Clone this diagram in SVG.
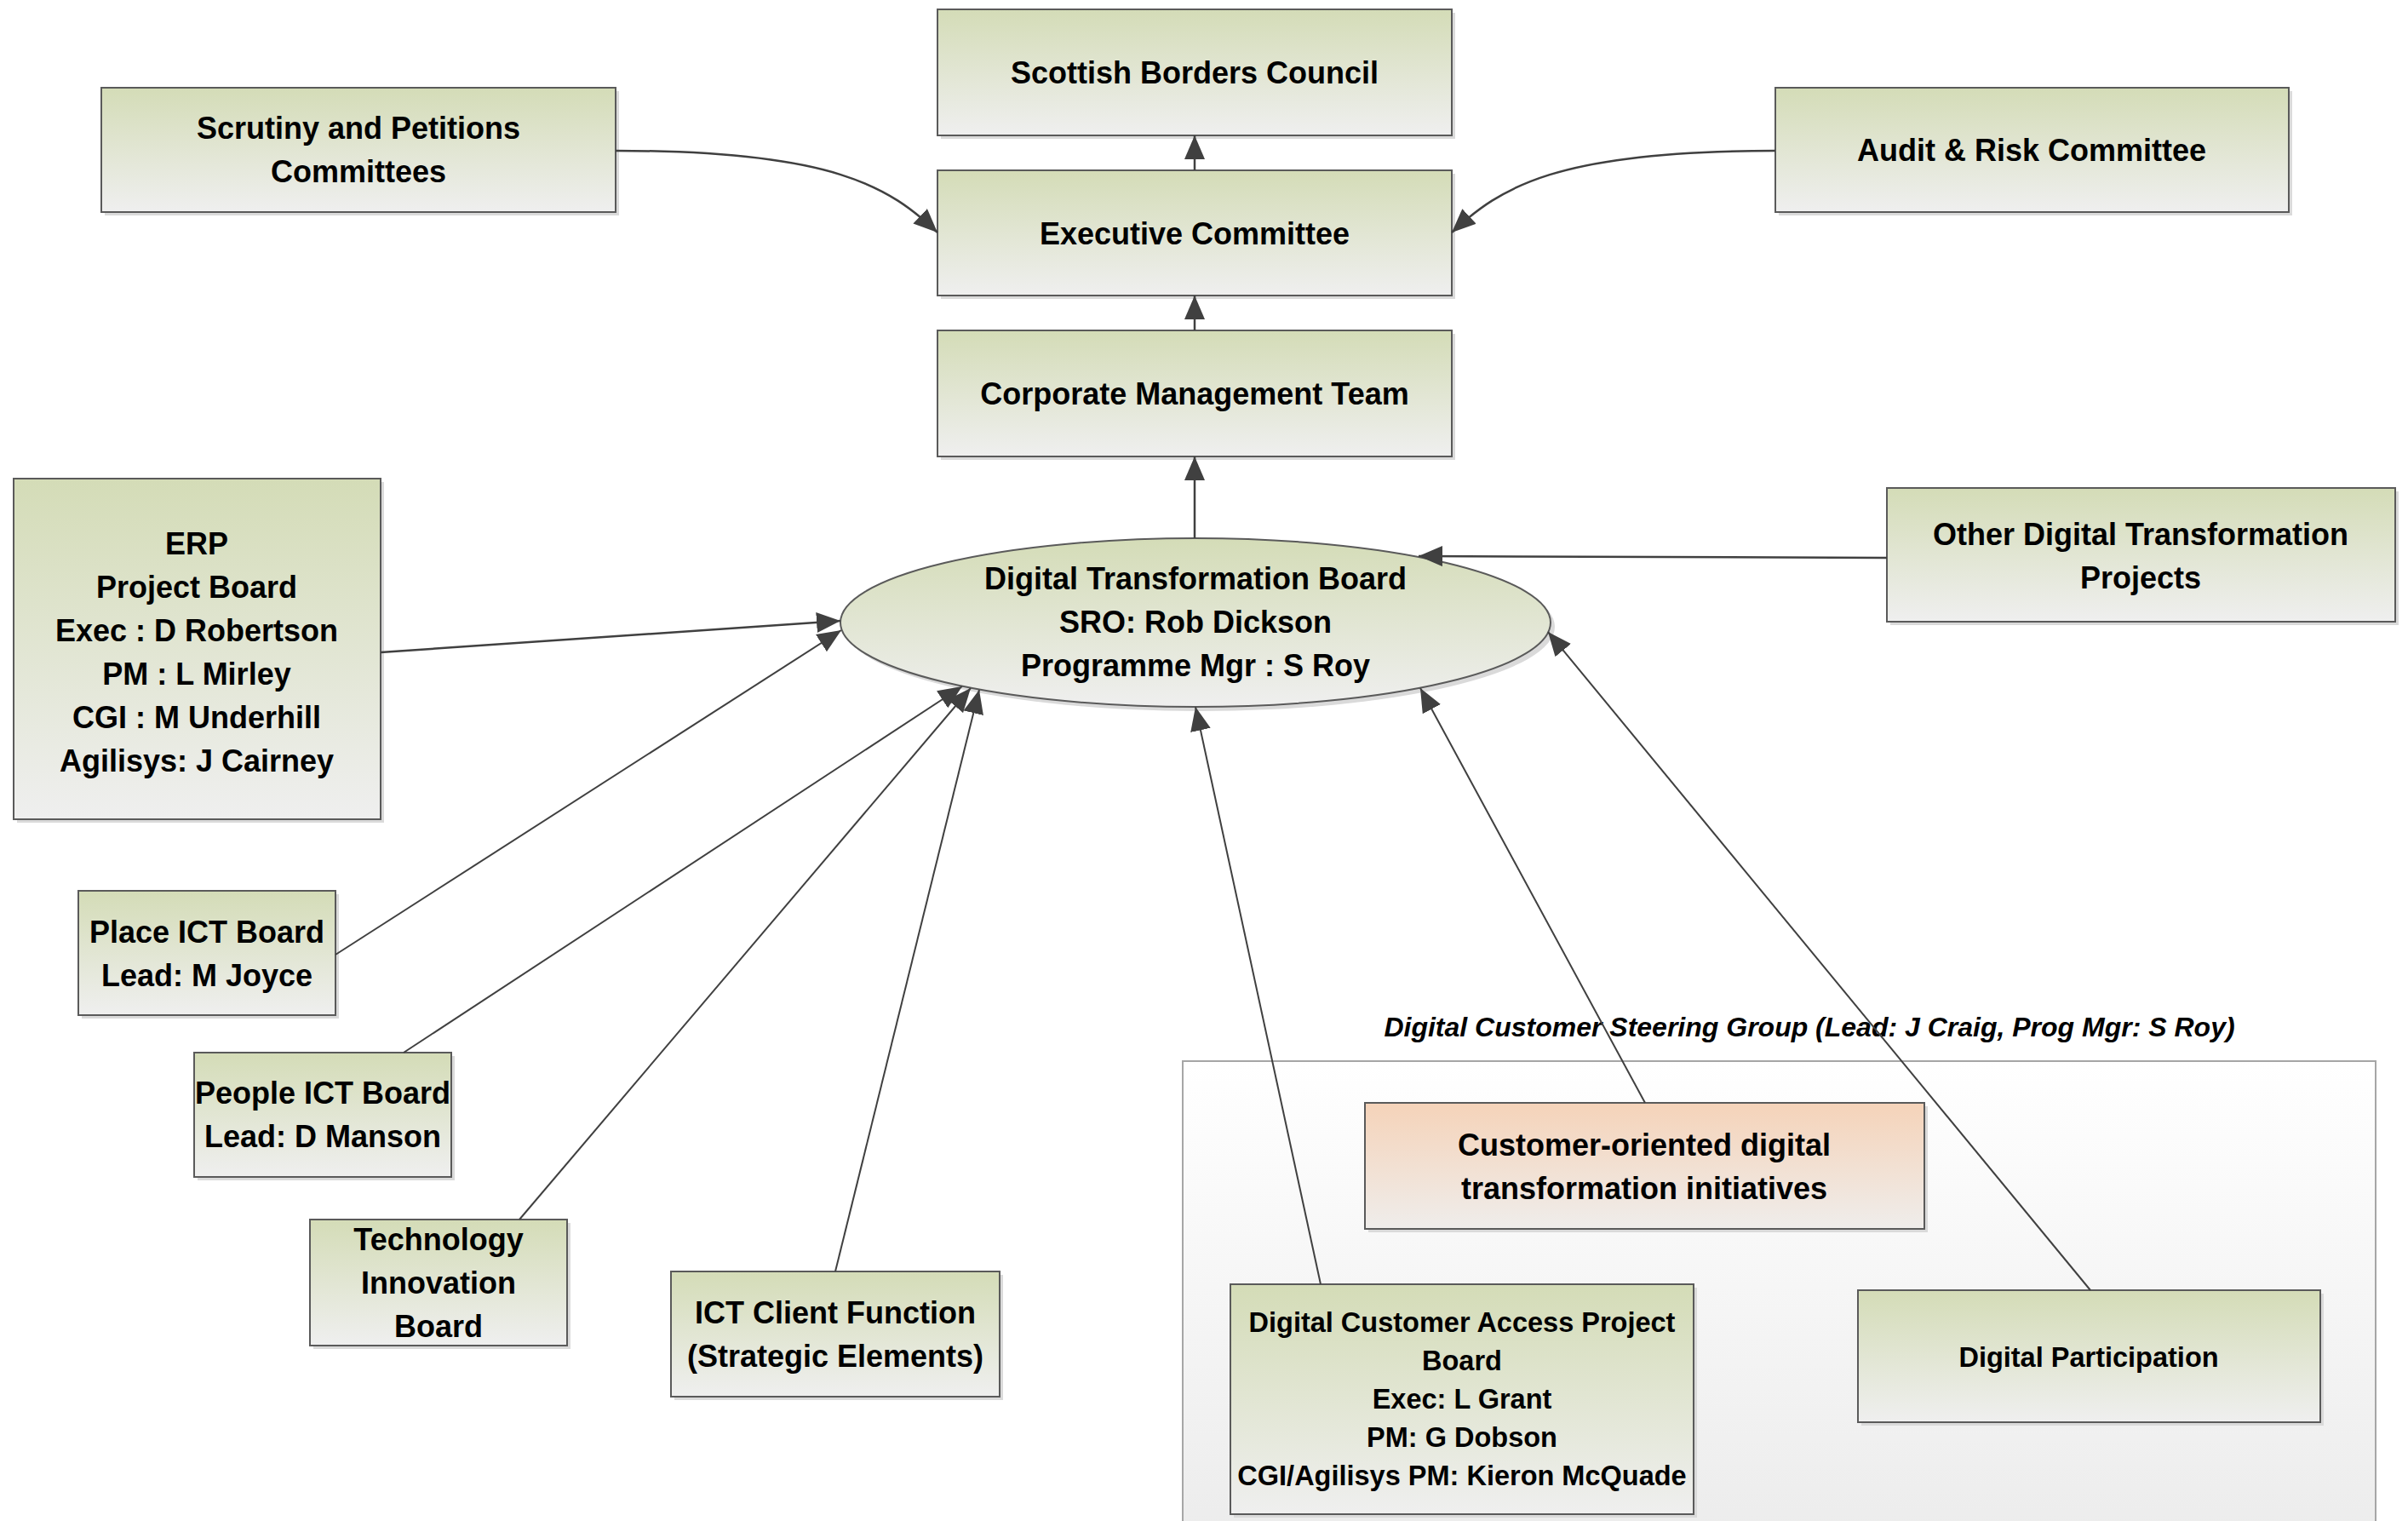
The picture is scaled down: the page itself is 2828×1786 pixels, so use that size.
<svg xmlns="http://www.w3.org/2000/svg" width="2828" height="1786" viewBox="0 0 2828 1786">
<style>
.box{stroke:#5a5a5a;stroke-width:2}
.g{fill:url(#gGreen)}
.p{fill:url(#gPeach)}
.sh{fill:#dadada}
.t{font-family:"Liberation Sans",Arial,sans-serif;font-weight:bold;font-size:36px;fill:#000;text-anchor:middle}
.s{font-size:32.5px}
.lbl{font-family:"Liberation Sans",Arial,sans-serif;font-weight:bold;font-style:italic;font-size:32px;fill:#000;text-anchor:middle}
.c{fill:none;stroke:#404040;stroke-width:2.5;marker-end:url(#arr)}
.c2{fill:none;stroke:#404040;stroke-width:2;marker-end:url(#arr)}
</style>
<defs>
<linearGradient id="gGreen" x1="0" y1="0" x2="0" y2="1">
<stop offset="0" stop-color="#d4dcb7"/>
<stop offset="1" stop-color="#efefef"/>
</linearGradient>
<linearGradient id="gPeach" x1="0" y1="0" x2="0" y2="1">
<stop offset="0" stop-color="#f5d3b9"/>
<stop offset="1" stop-color="#efedeb"/>
</linearGradient>
<linearGradient id="gCont" x1="0" y1="0" x2="0" y2="1">
<stop offset="0" stop-color="#ffffff"/>
<stop offset="1" stop-color="#ececec"/>
</linearGradient>
<marker id="arr" markerUnits="userSpaceOnUse" markerWidth="28" markerHeight="24" refX="28" refY="12" orient="auto">
<path d="M0,0 L28,12 L0,24 z" fill="#404040"/>
</marker>
</defs>
<rect width="2828" height="1786" fill="#ffffff"/>

<g id="group-digital-customer">
<rect x="1389" y="1246" width="1401" height="560" fill="url(#gCont)" stroke="#a6a6a6" stroke-width="2"/>
<text class="lbl" x="2125" y="1217">Digital Customer Steering Group (Lead: J Craig, Prog Mgr: S Roy)</text>
</g>

<g id="node-sbc">
<rect class="sh" x="1105" y="15" width="604" height="148"/>
<rect class="box g" x="1101" y="11" width="604" height="148"/>
<text class="t" x="1403" y="98">Scottish Borders Council</text>
</g>
<g id="node-exec">
<rect class="sh" x="1105" y="204" width="604" height="147"/>
<rect class="box g" x="1101" y="200" width="604" height="147"/>
<text class="t" x="1403" y="287">Executive Committee</text>
</g>
<g id="node-cmt">
<rect class="sh" x="1105" y="392" width="604" height="148"/>
<rect class="box g" x="1101" y="388" width="604" height="148"/>
<text class="t" x="1403" y="475">Corporate Management Team</text>
</g>
<g id="node-scrutiny">
<rect class="sh" x="123" y="107" width="604" height="146"/>
<rect class="box g" x="119" y="103" width="604" height="146"/>
<text class="t" x="421" y="163">Scrutiny and Petitions</text>
<text class="t" x="421" y="214">Committees</text>
</g>
<g id="node-audit">
<rect class="sh" x="2089" y="107" width="603" height="146"/>
<rect class="box g" x="2085" y="103" width="603" height="146"/>
<text class="t" x="2386" y="189">Audit &amp; Risk Committee</text>
</g>
<g id="node-erp">
<rect class="sh" x="20" y="566" width="431" height="400"/>
<rect class="box g" x="16" y="562" width="431" height="400"/>
<text class="t" x="231" y="651">ERP</text>
<text class="t" x="231" y="702">Project Board</text>
<text class="t" x="231" y="753">Exec : D Robertson</text>
<text class="t" x="231" y="804">PM : L Mirley</text>
<text class="t" x="231" y="855">CGI : M Underhill</text>
<text class="t" x="231" y="906">Agilisys: J Cairney</text>
</g>
<g id="node-dtb">
<ellipse class="sh" cx="1409" cy="736" rx="417" ry="99"/>
<ellipse class="box g" cx="1404" cy="731" rx="417" ry="99" stroke-width="1.5"/>
<text class="t" x="1404" y="692">Digital Transformation Board</text>
<text class="t" x="1404" y="743">SRO: Rob Dickson</text>
<text class="t" x="1404" y="794">Programme Mgr : S Roy</text>
</g>
<g id="node-other">
<rect class="sh" x="2220" y="577" width="597" height="157"/>
<rect class="box g" x="2216" y="573" width="597" height="157"/>
<text class="t" x="2514" y="640">Other Digital Transformation</text>
<text class="t" x="2514" y="691">Projects</text>
</g>
<g id="node-place">
<rect class="sh" x="96" y="1050" width="302" height="146"/>
<rect class="box g" x="92" y="1046" width="302" height="146"/>
<text class="t" x="243" y="1107">Place ICT Board</text>
<text class="t" x="243" y="1158">Lead: M Joyce</text>
</g>
<g id="node-people">
<rect class="sh" x="232" y="1240" width="302" height="146"/>
<rect class="box g" x="228" y="1236" width="302" height="146"/>
<text class="t" x="379" y="1296">People ICT Board</text>
<text class="t" x="379" y="1347">Lead: D Manson</text>
</g>
<g id="node-tech">
<rect class="sh" x="368" y="1436" width="302" height="148"/>
<rect class="box g" x="364" y="1432" width="302" height="148"/>
<text class="t" x="515" y="1468">Technology</text>
<text class="t" x="515" y="1519">Innovation</text>
<text class="t" x="515" y="1570">Board</text>
</g>
<g id="node-ict">
<rect class="sh" x="792" y="1497" width="386" height="147"/>
<rect class="box g" x="788" y="1493" width="386" height="147"/>
<text class="t" x="981" y="1554">ICT Client Function</text>
<text class="t" x="981" y="1605">(Strategic Elements)</text>
</g>
<g id="node-customer">
<rect class="sh" x="1607" y="1299" width="657" height="148"/>
<rect class="box p" x="1603" y="1295" width="657" height="148"/>
<text class="t" x="1931" y="1357">Customer-oriented digital</text>
<text class="t" x="1931" y="1408">transformation initiatives</text>
</g>
<g id="node-dca">
<rect class="sh" x="1449" y="1512" width="544" height="270"/>
<rect class="box g" x="1445" y="1508" width="544" height="270"/>
<text class="t s" x="1717" y="1564">Digital Customer Access Project</text>
<text class="t s" x="1717" y="1609">Board</text>
<text class="t s" x="1717" y="1654">Exec: L Grant</text>
<text class="t s" x="1717" y="1699">PM: G Dobson</text>
<text class="t s" x="1717" y="1744">CGI/Agilisys PM: Kieron McQuade</text>
</g>
<g id="node-digpart">
<rect class="sh" x="2186" y="1519" width="543" height="155"/>
<rect class="box g" x="2182" y="1515" width="543" height="155"/>
<text class="t s" x="2453" y="1605">Digital Participation</text>
</g>

<g id="connectors">
<path class="c" d="M1403,200 L1403,159"/>
<path class="c" d="M1403,388 L1403,347"/>
<path class="c" d="M1403,632 L1403,536"/>
<path class="c" d="M723,177 C980,177 1045,220 1101,273"/>
<path class="c" d="M2085,177 C1828,177 1762,220 1705,273"/>
<path class="c" d="M447,766 L987,729"/>
<path class="c" d="M2216,655 L1666,653"/>
<path class="c2" d="M394,1121 L988,740"/>
<path class="c2" d="M474,1236 L1130,806"/>
<path class="c2" d="M610,1432 L1140,808"/>
<path class="c2" d="M981,1493 L1150,810"/>
<path class="c2" d="M1551,1508 L1404,830"/>
<path class="c2" d="M1932,1295 L1668,808"/>
<path class="c2" d="M2455,1515 L1818,742"/>
</g>
</svg>
